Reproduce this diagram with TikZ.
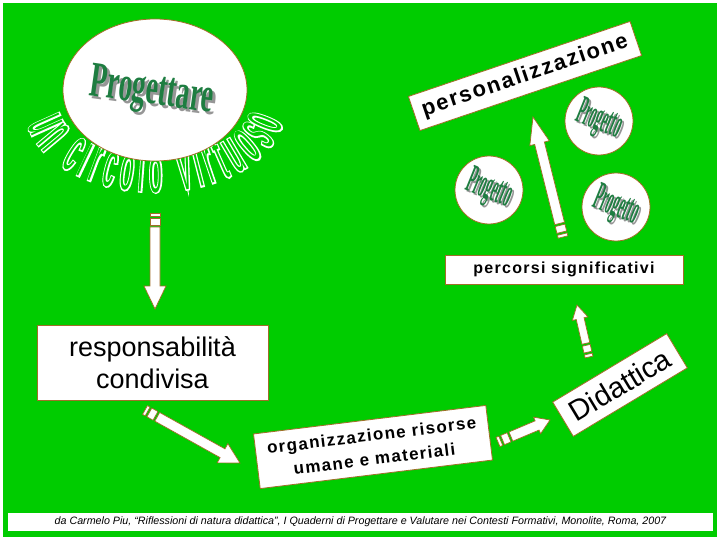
\documentclass[tikz,border=0pt]{standalone}
\usepackage{fontspec}
\setmainfont{Liberation Sans}
\newfontfamily\wordart[FakeStretch=0.55]{Liberation Serif}
\newfontfamily\wordartnarrow[FakeStretch=0.32]{Liberation Serif}
\newfontfamily\arcfont[FakeStretch=0.36]{Liberation Sans}
\newfontfamily\arcfontfat[FakeStretch=0.36,FakeBold=4]{Liberation Sans}
\newfontfamily\spaced[LetterSpace=8]{Liberation Sans}
\usetikzlibrary{shapes.geometric,decorations.text,calc}
\definecolor{bg}{RGB}{0,204,0}
\definecolor{edge}{RGB}{160,110,40}
\definecolor{wgreen}{RGB}{30,125,65}
\definecolor{wshadow}{RGB}{150,150,150}
\tikzset{
  box/.style={draw=edge, fill=white, line width=0.8pt, inner sep=0pt, align=center},
  barrow/.style={draw=edge, fill=white, line width=0.7pt, line join=miter},
  bubble/.style={circle, draw=edge, fill=white, line width=0.8pt, minimum size=68pt, inner sep=0pt}
}
% tail, tip, head length, head half width, shaft half width
\newcommand\blockarrow[5]{%
  \pgfpointanchor{#1}{center}\pgfgetlastxy\ax\ay
  \pgfpointanchor{#2}{center}\pgfgetlastxy\bx\by
  \pgfmathsetmacro\arrang{atan2(\by-\ay,\bx-\ax)}%
  \pgfmathsetmacro\arrlen{veclen(\bx-\ax,\by-\ay)}%
  \pgfmathsetmacro\arrbase{\arrlen-#3}%
  \begin{scope}[shift={(#1)}, rotate=\arrang]
    \path[barrow] (0,-#5) rectangle (3,#5);
    \path[barrow] (5,-#5) rectangle (12,#5);
    \path[barrow] (14,-#5) -- (\arrbase,-#5) -- (\arrbase,-#4) -- (\arrlen,0)
      -- (\arrbase,#4) -- (\arrbase,#5) -- (14,#5) -- cycle;
  \end{scope}}
\newcommand\progetto[2]{% rotation, name
  \node[text=wshadow, rotate=#1] at ($(#2)+(2,-2)$) {\wordartnarrow\bfseries\fontsize{40}{40}\selectfont Progetto};
  \node[text=wgreen, rotate=#1] at (#2) {\wordartnarrow\bfseries\fontsize{40}{40}\selectfont Progetto};}
\begin{document}
\begin{tikzpicture}[x=1pt,y=1pt]
\useasboundingbox (0,0) rectangle (720,-540);
\fill[white] (0,0) rectangle (720,-540);
\fill[bg] (3,-3) rectangle (717,-537);

% arc text "un circolo virtuoso"
\path[decorate, decoration={text along path, text align={fit to path},
  text={|\color{white}\arcfontfat\fontsize{64}{64}\selectfont|un circolo virtuoso}}]
  (155,-108) ++(192:130 and 84) arc[start angle=192, end angle=350, x radius=130, y radius=84];
\path[decorate, decoration={text along path, text align={fit to path},
  text={|\color{bg}\arcfont\fontsize{64}{64}\selectfont|un circolo virtuoso}}]
  (155,-108) ++(192:130 and 84) arc[start angle=192, end angle=350, x radius=130, y radius=84];

% Progettare ellipse
\node[ellipse, draw=edge, fill=white, line width=0.8pt, minimum width=184pt, minimum height=142pt] (prog) at (155,-90) {};
\node[text=wshadow, rotate=-8] at (155,-96) {\wordart\bfseries\fontsize{50}{50}\selectfont Progettare};
\node[text=wgreen, rotate=-8] (progtext) at (152,-93) {\wordart\bfseries\fontsize{50}{50}\selectfont Progettare};

% boxes
\node[box, minimum width=231pt, minimum height=75pt, font=\fontsize{27}{32}\selectfont] (resp) at (152.5,-362.5)
  {responsabilità\\condivisa};
\node[box, rotate=7, minimum width=234pt, minimum height=55pt, font=\spaced\bfseries\fontsize{17}{24}\selectfont] (org) at (373,-447)
  {organizzazione risorse\\umane e materiali};
\node[box, rotate=31, minimum width=133pt, minimum height=40pt, font=\fontsize{29}{30}\selectfont] (did) at (620,-385)
  {Didattica};
\node[box, minimum width=238pt, minimum height=29pt, font=\spaced\bfseries\fontsize{16}{18}\selectfont] (perc) at (564,-269.5)
  {percorsi significativi};
\node[box, rotate=18.7, minimum width=234pt, minimum height=36pt, font=\spaced\bfseries\fontsize{22}{26}\selectfont] (pers) at (525,-76)
  {personalizzazione};

% Progetto bubbles
\node[bubble] (p1) at (489,-190) {};
\node[bubble] (p2) at (599,-121) {};
\node[bubble] (p3) at (616,-207) {};
\progetto{-22}{p1}
\progetto{-22}{p2}
\progetto{-22}{p3}

% arrows
\coordinate (a1s) at (155,-213); \coordinate (a1e) at (155,-309);
\coordinate (a2s) at (145,-410); \coordinate (a2e) at (240,-463);
\coordinate (a3s) at (498,-442); \coordinate (a3e) at (550,-420);
\coordinate (a4s) at (589,-357); \coordinate (a4e) at (577,-305);
\coordinate (a5s) at (563,-237); \coordinate (a5e) at (533,-117);
\blockarrow{a1s}{a1e}{23}{11}{5}
\blockarrow{a2s}{a2e}{20}{11}{5}
\blockarrow{a3s}{a3e}{14}{9}{5}
\blockarrow{a4s}{a4e}{14}{8}{4}
\blockarrow{a5s}{a5e}{27}{10}{5}

% footer
\node[fill=white, minimum width=705pt, minimum height=18pt, inner sep=0pt] (foot) at (360.5,-522)
  {\fontsize{10.7}{12}\selectfont\itshape da Carmelo Piu, “Riflessioni di natura didattica”, I Quaderni di Progettare e Valutare nei Contesti Formativi, Monolite, Roma, 2007};
\end{tikzpicture}
\end{document}
